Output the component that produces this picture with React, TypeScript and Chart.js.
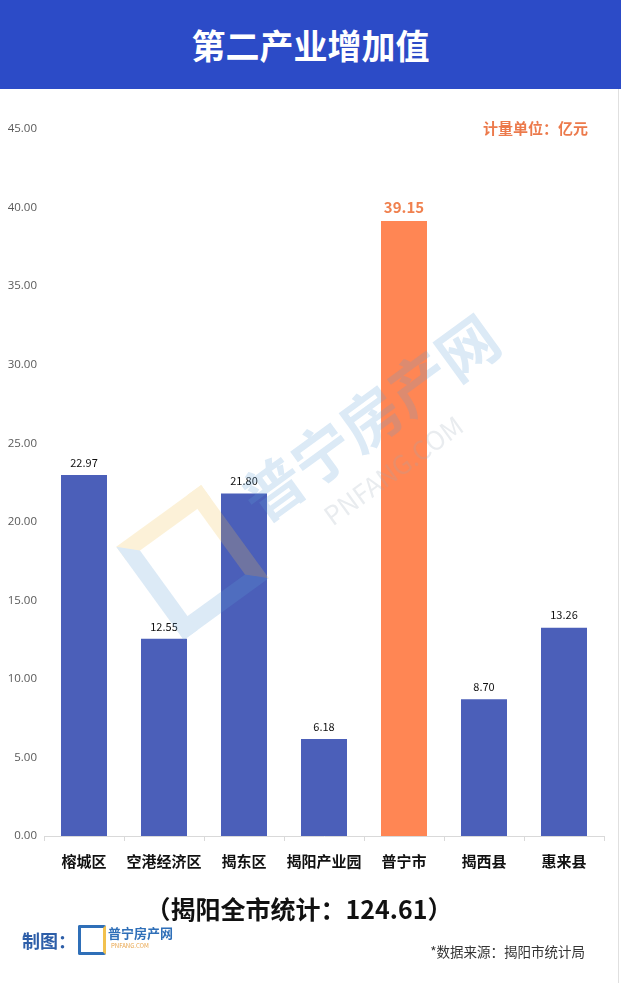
import React, { useEffect, useRef } from "react";
import { Chart, registerables } from "chart.js";
Chart.register(...registerables);

const categories = ["榕城区", "空港经济区", "揭东区", "揭阳产业园", "普宁市", "揭西县", "惠来县"];
const values = [22.97, 12.55, 21.8, 6.18, 39.15, 8.7, 13.26];
const highlightIndex = 4;
const yMin = 0;
const yMax = 45;
const yStep = 5;
const title = "第二产业增加值";
const unitLabel = "计量单位：亿元";
const totalLabel = "（揭阳全市统计：124.61）";
const sourceLabel = "*数据来源：揭阳市统计局";

const BLUE = "#4b5fb9";
const ORANGE = "#ff8654";
const FONT = '"Noto Sans CJK SC", "Noto Sans", sans-serif';

export default function App() {
  const ref = useRef<HTMLCanvasElement>(null);
  useEffect(() => {
    document.body.style.margin = "0";
    const labelPlugin = {
      id: "labels",
      afterDatasetsDraw(chart: any) {
        const ctx = chart.ctx;
        const meta = chart.getDatasetMeta(0);
        ctx.save();
        ctx.textAlign = "center";
        ctx.textBaseline = "bottom";
        meta.data.forEach((bar: any, i: number) => {
          const hi = i === highlightIndex;
          ctx.fillStyle = hi ? "#f0814f" : "#111";
          ctx.font = hi ? `bold 15px ${FONT}` : `11px ${FONT}`;
          ctx.fillText(values[i].toFixed(2), bar.x, bar.y - (hi ? 6 : 7));
        });
        ctx.font = `bold 15px ${FONT}`;
        ctx.fillStyle = "#ec7a4c";
        ctx.textAlign = "right";
        ctx.textBaseline = "middle";
        ctx.fillText(unitLabel, 588, 39);
        ctx.restore();
      },
    };
    const chart = new Chart(ref.current!, {
      type: "bar",
      data: {
        labels: categories,
        datasets: [
          {
            data: values,
            backgroundColor: values.map((_, i) => (i === highlightIndex ? ORANGE : BLUE)),
            barPercentage: 0.575,
            categoryPercentage: 1,
          },
        ],
      },
      options: {
        responsive: false,
        animation: false,
        layout: { padding: { top: 40, right: 17, left: 0, bottom: 0 } },
        plugins: { legend: { display: false }, tooltip: { enabled: false } },
        scales: {
          x: {
            grid: { display: true, drawOnChartArea: false, drawTicks: true, tickLength: 5, color: "#d9d9d9", offset: true },
            border: { display: true, color: "#d9d9d9" },
            ticks: { color: "#111", font: { family: FONT, size: 15, weight: "bold" }, padding: 11, maxRotation: 0, autoSkip: false },
            afterFit: (s: any) => { s.height = 53; },
          },
          y: {
            min: yMin,
            max: yMax,
            grid: { display: false, drawTicks: false },
            border: { display: false },
            ticks: {
              stepSize: yStep,
              color: "#595959",
              font: { family: '"Open Sans", "Noto Sans", sans-serif', size: 11.5 },
              padding: 7,
              callback: (v: any) => Number(v).toFixed(2),
            },
            afterFit: (s: any) => { s.width = 44; },
          },
        },
      },
      plugins: [labelPlugin],
    });
    return () => chart.destroy();
  }, []);

  return (
    <div style={{ position: "relative", width: 621, height: 983, background: "#fff", fontFamily: FONT, overflow: "hidden" }}>
      <div style={{ position: "absolute", left: 0, top: 0, width: 621, height: 89, background: "#2c4bc7", color: "#fff", fontSize: 34, fontWeight: "bold", display: "flex", alignItems: "center", justifyContent: "center" }}>
        {title}
      </div>
      <canvas ref={ref} width={621} height={800} style={{ position: "absolute", left: 0, top: 89 }} />
      <div style={{ position: "absolute", left: 618, top: 89, width: 1, height: 894, background: "#e0e0e0" }} />
      {/* watermark */}
      <div style={{ position: "absolute", left: 0, top: 0, width: 621, height: 983, pointerEvents: "none", opacity: 0.22 }}>
        <div style={{ position: "absolute", left: 268, top: 462, fontSize: 60, fontWeight: "bold", color: "#5f9fd6", transform: "rotate(-36deg)", transformOrigin: "0 100%", whiteSpace: "nowrap", lineHeight: "70px" }}>
          普宁房产网
        </div>
        <div style={{ position: "absolute", left: 335, top: 500, fontSize: 26, color: "#9aa9b8", transform: "rotate(-36deg)", transformOrigin: "0 100%", whiteSpace: "nowrap", lineHeight: "30px" }}>
          PNFANG.COM
        </div>
        <div style={{ position: "absolute", left: 140, top: 505, width: 105, height: 115, border: "17px solid #5f9fd6", borderRightColor: "#f2c14e", borderTopColor: "#f2c14e", boxSizing: "border-box", transform: "rotate(-36deg)" }} />
      </div>
      <div style={{ position: "absolute", left: 0, top: 889, width: 598, textAlign: "center", fontSize: 25, fontWeight: "bold", color: "#111", lineHeight: "38px" }}>
        {totalLabel}
      </div>
      <div style={{ position: "absolute", left: 22, top: 927, fontSize: 18, fontWeight: "bold", color: "#2d5ea8", lineHeight: "26px" }}>
        制图：
      </div>
      <div style={{ position: "absolute", left: 78, top: 925, width: 28, height: 30, border: "3px solid #2f6fb8", borderRight: "3px solid #f2c14e", boxSizing: "border-box", borderRadius: 2 }} />
      <div style={{ position: "absolute", left: 108, top: 924, fontSize: 13, fontWeight: "bold", color: "#2f6fb8", lineHeight: "18px" }}>
        普宁房产网
      </div>
      <div style={{ position: "absolute", left: 111, top: 942, fontSize: 6, color: "#e8a44a", lineHeight: "8px" }}>
        PNFANG.COM
      </div>
      <div style={{ position: "absolute", right: 36, top: 941, fontSize: 13.5, color: "#333", lineHeight: "20px" }}>
        {sourceLabel}
      </div>
    </div>
  );
}
